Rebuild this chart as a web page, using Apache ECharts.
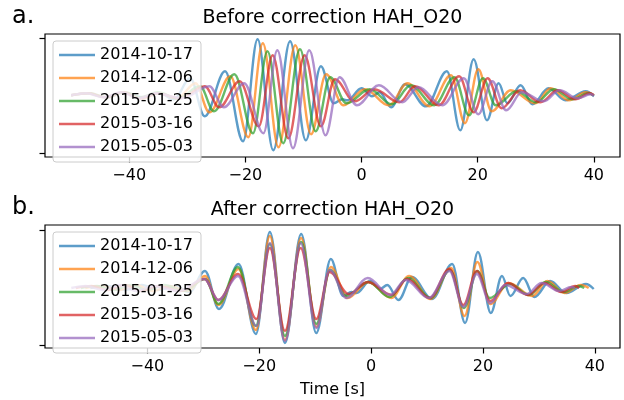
<!DOCTYPE html>
<html><head><meta charset="utf-8">
<script src="https://cdn.jsdelivr.net/npm/echarts@6/dist/echarts.min.js"></script>
<style>html,body{margin:0;padding:0;background:#fff}#c{width:624px;height:400px}</style>
</head><body><div id="c"></div>
<script>
const DATES = ['2014-10-17', '2014-12-06', '2015-01-25', '2015-03-16', '2015-05-03'];
const COLORS = ['rgba(31,119,180,0.72)', 'rgba(255,127,14,0.72)', 'rgba(44,160,44,0.72)', 'rgba(214,39,40,0.72)', 'rgba(148,103,189,0.72)'];
const X_TICKS = [-40, -20, 0, 20, 40];
const Y_TICKS = [-57.5, 57.5];
const TITLE_BEFORE = 'Before correction HAH_O20';
const TITLE_AFTER = 'After correction HAH_O20';

// 2014-10-17
const AMP_1 = [0, 2, -2, 3, -2, 2, -4, 17, -21, 24, -46, 56, -55, 54, -45, 29, -8, -4, -5, 7, -1, 3, -12, 11, -11, 24, -35, 36, -25, 12, -8, 10, -9, 7, -5, 4, -1];
const T_BEFORE_1 = [-50, -46.8, -43.8, -40.8, -37.8, -34.8, -32.3, -29.5, -27.0, -23.5, -20.4, -17.9, -15.2, -12.3, -9.6, -7.0, -4.8, -3.3, -2.4, 0.0, 1.8, 3.1, 5.1, 7.5, 11.1, 14.7, 17.0, 19.3, 21.6, 23.6, 25.1, 27.4, 29.4, 32.2, 35.1, 38.6, 40.0];
const T_AFTER_1 = [-50.2, -47, -44, -41, -38, -35, -32.5, -29.7, -27.2, -23.7, -20.6, -18.1, -15.4, -12.5, -9.8, -7.2, -5.0, -3.5, -2.6, -0.2, 1.6, 2.9, 4.9, 7.3, 10.9, 14.5, 16.8, 19.1, 21.4, 23.4, 24.9, 27.2, 29.2, 32.0, 34.9, 38.4, 39.8];
// 2014-12-06
const AMP_2 = [0, 2, -2, 3, -3, 2, -3, 12, -17, 19, -42, 52, -52, 50, -39, 21, -10, 6, -10, 12, -11, 20, -28, 26, -16, 5, -8, 7, -5, 3, 0];
const T_BEFORE_2 = [-50, -46.9, -43.9, -40.9, -37.9, -34.9, -31.7, -28.6, -26.2, -22.6, -19.5, -17.0, -14.3, -11.4, -8.7, -6.1, -3.1, 0.6, 4.7, 7.9, 11.7, 15.4, 17.8, 20.1, 22.4, 25.7, 29.9, 32.6, 35.7, 38.6, 40.0];
const T_AFTER_2 = [-51.1, -48, -45, -42, -39, -36, -32.8, -29.7, -27.3, -23.7, -20.6, -18.1, -15.4, -12.5, -9.8, -7.2, -4.2, -0.5, 3.6, 6.8, 10.6, 14.3, 16.7, 19.0, 21.3, 24.6, 28.8, 31.5, 34.6, 37.5, 38.9];
// 2015-01-25
const AMP_3 = [0, 2, -2, 3, -2, 3, -3, 9, -16, 21, -38, 44, -48, 46, -36, 18, -8, 6, -9, 10, -10, 18, -20, 17, -10, 4, -7, 6, -4, 2, 0];
const T_BEFORE_3 = [-50, -47.1, -44.1, -41.1, -38.1, -35.1, -31.6, -27.8, -25.4, -21.9, -18.7, -16.2, -13.5, -10.6, -7.9, -5.4, -2.6, 1.4, 5.2, 8.5, 12.5, 16.0, 18.5, 20.9, 23.1, 26.7, 30.1, 33.1, 36.3, 39.0, 40.0];
const T_AFTER_3 = [-51.9, -49, -46, -43, -40, -37, -33.5, -29.7, -27.3, -23.8, -20.6, -18.1, -15.4, -12.5, -9.8, -7.3, -4.5, -0.5, 3.3, 6.6, 10.6, 14.1, 16.6, 19.0, 21.2, 24.8, 28.2, 31.2, 34.4, 37.1, 38.1];
// 2015-03-16
const AMP_4 = [0, 2, -2, 3, -3, 2, -3, 9, -12, 14, -31, 40, -43, 40, -31, 16, -6, 6, -7, 9, -10, 19, -17, 17, -13, 5, -7, 5, -4, 2, 0];
const T_BEFORE_4 = [-50, -47.2, -44.2, -41.2, -38.2, -35.2, -31.2, -27.0, -24.5, -21.0, -17.7, -15.3, -12.6, -9.8, -7.0, -4.6, -1.2, 2.2, 6.5, 9.2, 13.3, 16.8, 19.3, 21.7, 24.1, 27.3, 30.8, 33.8, 36.8, 39.3, 40.0];
const T_AFTER_4 = [-52.8, -50, -47, -44, -41, -38, -34, -29.8, -27.3, -23.8, -20.5, -18.1, -15.4, -12.6, -9.8, -7.4, -4.0, -0.6, 3.7, 6.4, 10.5, 14.0, 16.5, 18.9, 21.3, 24.5, 28.0, 31.0, 34.0, 36.5, 37.2];
// 2015-05-03
const AMP_5 = [0, 2, -2, 3, -3, 2, -3, 9, -12, 12, -38, 45, -53, 45, -40, 18, -10, 10, -7, 8, -10, 17, -19, 14, -15, 3, -6, 5, -3, 1, 0];
const T_BEFORE_5 = [-50, -47.4, -44.4, -41.4, -38.4, -35.4, -30.9, -26.2, -23.7, -20.2, -16.9, -14.5, -11.8, -9.0, -6.2, -3.8, -0.8, 3.0, 7.0, 9.8, 13.9, 17.6, 20.1, 22.5, 24.9, 27.6, 31.4, 34.1, 37.2, 39.4, 40.0];
const T_AFTER_5 = [-53.6, -51, -48, -45, -42, -39, -34.5, -29.8, -27.3, -23.8, -20.5, -18.1, -15.4, -12.6, -9.8, -7.4, -4.4, -0.6, 3.4, 6.2, 10.3, 14.0, 16.5, 18.9, 21.3, 24.0, 27.8, 30.5, 33.6, 35.8, 36.4];

const AMPS = [AMP_1, AMP_2, AMP_3, AMP_4, AMP_5];
const T_BEFORE = [T_BEFORE_1, T_BEFORE_2, T_BEFORE_3, T_BEFORE_4, T_BEFORE_5];
const T_AFTER = [T_AFTER_1, T_AFTER_2, T_AFTER_3, T_AFTER_4, T_AFTER_5];

const FONT = 'DejaVu Sans';
const fmt = v => (v < 0 ? '\u2212' + Math.abs(v) : String(v));

function xAxis(gridIndex, min, max, name) {
  return {
    type: 'value', gridIndex, min, max, position: 'bottom',
    splitLine: { show: false },
    axisLine: { show: false, onZero: false },
    axisTick: { show: true, customValues: X_TICKS, length: 5.5, lineStyle: { color: '#000', width: 1.2 } },
    axisLabel: { show: true, customValues: X_TICKS, formatter: fmt, margin: 11, color: '#000', fontSize: 16, fontFamily: FONT },
    name: name || '', nameLocation: 'middle', nameGap: 34,
    nameTextStyle: { color: '#000', fontSize: 16, fontFamily: FONT }
  };
}
function yAxis(gridIndex, min, max) {
  return {
    type: 'value', gridIndex, min, max, position: 'left',
    splitLine: { show: false },
    axisLine: { show: false, onZero: false },
    axisTick: { show: true, customValues: Y_TICKS, length: 5.5, lineStyle: { color: '#000', width: 1.2 } },
    axisLabel: { show: false }
  };
}

const series = [];
[T_BEFORE, T_AFTER].forEach((times, g) => {
  DATES.forEach((d, i) => {
    series.push({
      name: d, type: 'line', xAxisIndex: g, yAxisIndex: g,
      data: times[i].map((t, k) => [t, AMPS[i][k]]),
      showSymbol: false, symbol: 'none',
      smooth: 0.36, smoothMonotone: 'x',
      color: COLORS[i],
      lineStyle: { width: 2.4, color: COLORS[i] },
      emphasis: { disabled: true },
      clip: true
    });
  });
});

function legend(top) {
  return {
    orient: 'vertical', left: 53, top,
    data: DATES,
    icon: 'rect', itemWidth: 36, itemHeight: 2.5, itemGap: 7, itemTextGap: 11,
    padding: [6, 8, 7, 6],
    backgroundColor: 'rgba(255,255,255,0.8)',
    borderColor: '#cccccc', borderWidth: 1, borderRadius: 3,
    textStyle: { color: '#000', fontSize: 16, fontFamily: FONT, lineHeight: 16 },
    selectedMode: false
  };
}

const chart = echarts.init(document.getElementById('c'), null, { renderer: 'canvas' });
chart.setOption({
  animation: false,
  backgroundColor: '#fff',
  grid: [
    { left: 45, top: 34, width: 575, height: 123, show: true, borderColor: '#000', borderWidth: 1.2, backgroundColor: 'transparent' },
    { left: 45, top: 225, width: 575, height: 123, show: true, borderColor: '#000', borderWidth: 1.2, backgroundColor: 'transparent' }
  ],
  xAxis: [xAxis(0, -54.5, 44.5), xAxis(1, -58.3, 44.5, 'Time [s]')],
  yAxis: [yAxis(0, -61.7, 61.3), yAxis(1, -60, 63)],
  legend: [legend(41), legend(232)],
  graphic: [
    { type: 'text', x: 12, y: 17, style: { text: 'a.', font: '24px ' + FONT, fill: '#000', textAlign: 'left', textVerticalAlign: 'middle' } },
    { type: 'text', x: 332.5, y: 18.5, style: { text: TITLE_BEFORE, font: '19px ' + FONT, fill: '#000', textAlign: 'center', textVerticalAlign: 'middle' } },
    { type: 'text', x: 12, y: 208, style: { text: 'b.', font: '24px ' + FONT, fill: '#000', textAlign: 'left', textVerticalAlign: 'middle' } },
    { type: 'text', x: 332.5, y: 210, style: { text: TITLE_AFTER, font: '19px ' + FONT, fill: '#000', textAlign: 'center', textVerticalAlign: 'middle' } }
  ],
  series
});
</script></body></html>
